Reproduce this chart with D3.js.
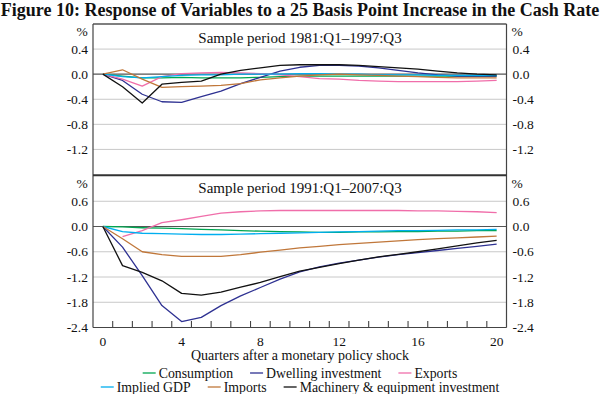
<!DOCTYPE html>
<html>
<head>
<meta charset="utf-8">
<script src="https://cdn.jsdelivr.net/npm/d3@7"></script>
<style>
  html, body { margin: 0; padding: 0; background: #fff; }
  svg text { font-family: "Liberation Serif", "Times New Roman", serif; fill: #111; }
</style>
</head>
<body>
<svg id="chart" width="600" height="394"></svg>
<script>
// ---- Data ----
const quarters = d3.range(0, 21);
const seriesNames = ["Consumption", "Dwelling investment", "Exports", "Implied GDP", "Imports", "Machinery & equipment investment"];
const seriesColors = ["#00a651", "#2e3192", "#f06eaa", "#00aeef", "#c0773a", "#111111"];

// Panel 1: sample period 1981:Q1–1997:Q3
const p1Consumption = [0, -0.03, -0.06, -0.06, -0.05, -0.06, -0.06, -0.06, -0.05, -0.04, -0.03, -0.03, -0.03, -0.03, -0.03, -0.03, -0.03, -0.03, -0.03, -0.03, -0.03];
const p1Dwelling = [0, -0.1, -0.32, -0.44, -0.45, -0.36, -0.27, -0.15, -0.05, 0.05, 0.11, 0.14, 0.14, 0.13, 0.1, 0.06, 0.02, -0.01, -0.03, -0.03, -0.03];
const p1Exports = [0, -0.08, -0.19, -0.04, 0.01, 0.02, 0.03, 0.02, 0.01, -0.01, -0.04, -0.07, -0.08, -0.1, -0.11, -0.12, -0.12, -0.12, -0.12, -0.11, -0.1];
const p1GDP = [0, -0.04, -0.06, -0.04, -0.02, -0.01, -0.01, 0, 0, 0, 0.01, 0.01, 0, 0, -0.01, -0.01, -0.01, -0.02, -0.02, -0.02, -0.02];
const p1Imports = [0, 0.07, -0.08, -0.21, -0.2, -0.19, -0.18, -0.15, -0.09, -0.06, -0.03, -0.01, 0, -0.01, -0.02, -0.03, -0.04, -0.05, -0.06, -0.06, -0.06];
const p1Machinery = [0, -0.2, -0.46, -0.16, -0.13, -0.11, 0, 0.06, 0.1, 0.14, 0.15, 0.15, 0.15, 0.14, 0.12, 0.1, 0.08, 0.05, 0.02, 0, -0.01];

// Panel 2: sample period 1991:Q1–2007:Q3
const p2Consumption = [0, -0.01, -0.03, -0.04, -0.05, -0.07, -0.08, -0.1, -0.11, -0.12, -0.13, -0.14, -0.14, -0.13, -0.13, -0.12, -0.12, -0.11, -0.11, -0.1, -0.1];
const p2Dwelling = [0, -0.49, -1.17, -1.88, -2.26, -2.16, -1.88, -1.65, -1.45, -1.25, -1.08, -0.96, -0.87, -0.8, -0.73, -0.67, -0.62, -0.57, -0.52, -0.47, -0.42];
const p2Exports = [null, -0.24, -0.1, 0.09, 0.16, 0.24, 0.32, 0.35, 0.37, 0.38, 0.38, 0.38, 0.38, 0.38, 0.38, 0.38, 0.37, 0.37, 0.36, 0.35, 0.33];
const p2GDP = [0, -0.12, -0.16, -0.17, -0.18, -0.19, -0.19, -0.18, -0.17, -0.16, -0.15, -0.14, -0.13, -0.12, -0.11, -0.1, -0.1, -0.09, -0.08, -0.08, -0.07];
const p2Imports = [0, -0.29, -0.6, -0.67, -0.71, -0.71, -0.71, -0.67, -0.61, -0.56, -0.51, -0.47, -0.43, -0.4, -0.37, -0.34, -0.31, -0.29, -0.27, -0.25, -0.23];
const p2Machinery = [0, -0.93, -1.09, -1.29, -1.59, -1.63, -1.56, -1.44, -1.33, -1.19, -1.06, -0.97, -0.88, -0.8, -0.72, -0.66, -0.6, -0.53, -0.46, -0.39, -0.33];

const p1Ticks = [0.4, 0.0, -0.4, -0.8, -1.2];
const p2Ticks = [0.6, 0.0, -0.6, -1.2, -1.8, -2.4];
const xTickLabels = [0, 4, 8, 12, 16, 20];

const titleText = "Figure 10: Response of Variables to a 25 Basis Point Increase in the Cash Rate";
const p1Title = "Sample period 1981:Q1\u20131997:Q3";
const p2Title = "Sample period 1991:Q1\u20132007:Q3";
const xAxisTitle = "Quarters after a monetary policy shock";

// ---- Layout ----
const svg = d3.select("#chart");
const L = 93, R = 506.5;
const x = d3.scaleLinear().domain([-0.5, 20.5]).range([L, R]);
const y1 = d3.scaleLinear().domain([-1.6, 0.8]).range([174.5, 24]);
const y2 = d3.scaleLinear().domain([-2.4, 1.2]).range([327.5, 176]);

// Title
svg.append("text").attr("x", 300).attr("y", 15.5).attr("text-anchor", "middle")
  .attr("font-weight", "bold").attr("font-size", 18).text(titleText);

function fmt(v) { return (v === 0 ? "0.0" : d3.format(".1f")(v)).replace("\u2212", "-"); }

function panel(y, ticks, series, title, titleY) {
  const g = svg.append("g");
  // gridlines
  g.selectAll("line.grid").data(ticks.filter(t => t !== 0)).join("line")
    .attr("x1", L).attr("x2", R).attr("y1", d => y(d)).attr("y2", d => y(d))
    .attr("stroke", "#c8c8c8").attr("stroke-width", 1);
  // zero line
  g.append("line").attr("x1", L).attr("x2", R).attr("y1", y(0)).attr("y2", y(0))
    .attr("stroke", "#555").attr("stroke-width", 1.2);
  // tick labels left and right
  g.selectAll("text.yl").data(ticks).join("text")
    .attr("x", L - 5).attr("y", d => y(d) + 4.5).attr("text-anchor", "end")
    .attr("font-size", 13.5).text(fmt);
  g.selectAll("text.yr").data(ticks).join("text")
    .attr("x", R + 6).attr("y", d => y(d) + 4.5).attr("text-anchor", "start")
    .attr("font-size", 13.5).text(fmt);
  const topY = y.range()[1];
  g.append("text").attr("x", 82).attr("y", topY + 11.5).attr("text-anchor", "middle").attr("font-size", 13.5).text("%");
  g.append("text").attr("x", 517).attr("y", topY + 11.5).attr("text-anchor", "middle").attr("font-size", 13.5).text("%");
  // panel title
  g.append("text").attr("x", 300).attr("y", titleY).attr("text-anchor", "middle").attr("font-size", 15).text(title);
  // lines
  const line = d3.line().defined(d => d[1] !== null).x(d => x(d[0])).y(d => y(d[1]));
  series.forEach((s, i) => {
    g.append("path").datum(quarters.map((q, j) => [q, s[j]]))
      .attr("d", line).attr("fill", "none").attr("stroke", seriesColors[i])
      .attr("stroke-width", 1.3).attr("stroke-linejoin", "round");
  });
  return g;
}

panel(y1, p1Ticks, [p1Consumption, p1Dwelling, p1Exports, p1GDP, p1Imports, p1Machinery], p1Title, 43);
panel(y2, p2Ticks, [p2Consumption, p2Dwelling, p2Exports, p2GDP, p2Imports, p2Machinery], p2Title, 193);

// Frame
svg.append("line").attr("x1", L).attr("x2", R).attr("y1", 24).attr("y2", 24).attr("stroke", "#555").attr("stroke-width", 1.3);
svg.append("line").attr("x1", L).attr("x2", L).attr("y1", 24).attr("y2", 327.5).attr("stroke", "#444").attr("stroke-width", 1.2);
svg.append("line").attr("x1", R).attr("x2", R).attr("y1", 24).attr("y2", 327.5).attr("stroke", "#444").attr("stroke-width", 1.2);
svg.append("line").attr("x1", L).attr("x2", R).attr("y1", 175.3).attr("y2", 175.3).attr("stroke", "#333").attr("stroke-width", 2);
svg.append("line").attr("x1", L).attr("x2", R).attr("y1", 327.5).attr("y2", 327.5).attr("stroke", "#444").attr("stroke-width", 1.2);

// X axis ticks (at quarter boundaries) and labels
svg.selectAll("line.xt").data(d3.range(0, 20)).join("line")
  .attr("x1", d => x(d + 0.5)).attr("x2", d => x(d + 0.5))
  .attr("y1", 327.5).attr("y2", 321).attr("stroke", "#444").attr("stroke-width", 1.1);
svg.selectAll("text.xl").data(xTickLabels).join("text")
  .attr("x", d => x(d)).attr("y", 346).attr("text-anchor", "middle").attr("font-size", 13.5).text(d => d);
svg.append("text").attr("x", 300).attr("y", 360).attr("text-anchor", "middle").attr("font-size", 14).text(xAxisTitle);

// Legend
const rows = [[0, 1, 2], [3, 4, 5]];
const rowY = [373, 387];
const swatch = 13, gapS = 3, gapItem = 17;
rows.forEach((row, ri) => {
  const g = svg.append("g");
  let cx = 0;
  row.forEach(i => {
    g.append("line").attr("x1", cx).attr("x2", cx + swatch).attr("y1", rowY[ri]).attr("y2", rowY[ri])
      .attr("stroke", seriesColors[i]).attr("stroke-width", 1.3);
    const t = g.append("text").attr("x", cx + swatch + gapS).attr("y", rowY[ri] + 4.5)
      .attr("font-size", 13.8).text(seriesNames[i]);
    cx += swatch + gapS + t.node().getComputedTextLength() + gapItem;
  });
  const w = cx - gapItem;
  g.attr("transform", `translate(${300 - w / 2},0)`);
});
</script>
</body>
</html>
